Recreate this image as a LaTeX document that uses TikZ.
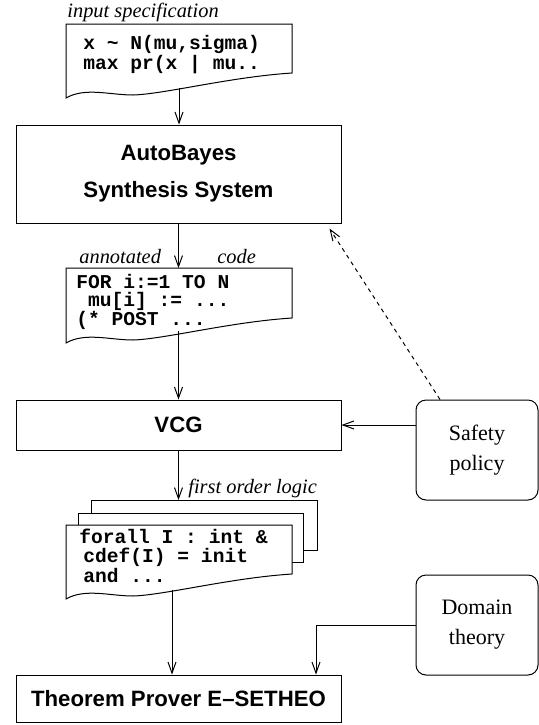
\documentclass[tikz,border=0pt]{standalone}
\usepackage{fontspec}
\setmainfont{Liberation Serif}
\setsansfont{Liberation Sans}
\setmonofont{Liberation Mono}
\usetikzlibrary{arrows.meta}

\tikzset{
  stage/.style={draw, line width=0.5pt, minimum width=162.5pt, align=center, inner sep=0pt, font=\sffamily\bfseries\fontsize{11.1}{18.5}\selectfont},
  policy/.style={draw, line width=0.5pt, rounded corners=5pt, minimum width=61pt, minimum height=50pt, align=center, font=\fontsize{11}{15}\selectfont},
  codeline/.style={anchor=base west, inner sep=0pt, font=\ttfamily\bfseries\fontsize{9.8}{9.5}\selectfont},
  remark/.style={anchor=base west, inner sep=0pt, font=\itshape\fontsize{10.2}{12}\selectfont},
  flow/.style={line width=0.5pt, -{Straight Barb[length=5.5pt,width=4pt]}},
}

\newcommand\etcdots{...}
\newcommand\codesheet[2]{%
  \draw[line width=0.5pt, fill=white] (66,#1) -- (292,#1) -- (292,#2)
    .. controls (230,#2+4) and (165,#2+21) .. (133,#2+22)
    .. controls (110,#2+22) and (85,#2+14) .. (66,#2+25) -- cycle;}

\begin{document}
\begin{tikzpicture}[x=0.5pt, y=-0.5pt]
\useasboundingbox (0,0) rectangle (539,725);

\node[stage, minimum height=49pt] (synth) at (178.5,174) {AutoBayes\\Synthesis System};
\node[stage, minimum height=25pt] (vcg) at (178.5,425) {VCG};
\node[stage, minimum height=23.5pt] (prover) at (178.5,698.5) {Theorem Prover E--SETHEO};
\node[policy] (safety) at (477,450) {Safety\\policy};
\node[policy] (domain) at (477,625) {Domain\\theory};

\codesheet{24}{73}
\coordinate (spec-b) at (179,88);
\foreach \txt [count=\i] in {{x \textasciitilde{} N(mu,sigma)}, {max pr(x | mu.{}.}}
  \node[codeline] (spec-\i) at (83,29+20*\i) {\txt};
\node[remark] (spec-note) at (67,17) {input specification};

\codesheet{268}{318}
\coordinate (code-t) at (178.5,268);
\coordinate (code-b) at (178.5,331);
\foreach \txt [count=\i] in {{FOR i:=1 TO N}, {~mu[i] := \etcdots}, {(* POST \etcdots}}
  \node[codeline] (code-\i) at (76,269.5+18.5*\i) {\txt};
\node[remark] (code-note1) at (79,263) {annotated};
\node[remark] (code-note2) at (217,263) {code};

\draw[line width=0.5pt, fill=white] (91,500) rectangle (317,550);
\draw[line width=0.5pt, fill=white] (78,513) rectangle (303,562);
\codesheet{525}{574}
\coordinate (logic-t) at (178.5,500);
\coordinate (logic-b) at (172,590);
\foreach \x/\txt [count=\i] in {79/{forall I : int \&}, 83/{cdef(I) = init}, 83/{and \etcdots}}
  \node[codeline] (logic-\i) at (\x,523.5+19.5*\i) {\txt};
\node[remark] (logic-note) at (188,493) {first order logic};

\draw[flow] (spec-b) -- (spec-b |- synth.north);
\draw[flow] (synth.south) -- (code-t);
\draw[flow] (code-b) -- (vcg.north);
\draw[flow] (vcg.south) -- (logic-t);
\draw[flow] (logic-b) -- (logic-b |- prover.north);
\draw[flow] (safety.west |- vcg) -- (vcg.east);
\draw[flow] (domain.west) -| ([xshift=68.75pt]prover.north);
\draw[flow, dash pattern=on 2pt off 2pt] ([xshift=-18.5pt]safety.north) -- ([xshift=-6pt,yshift=-2.5pt]synth.south east);
\end{tikzpicture}
\end{document}
